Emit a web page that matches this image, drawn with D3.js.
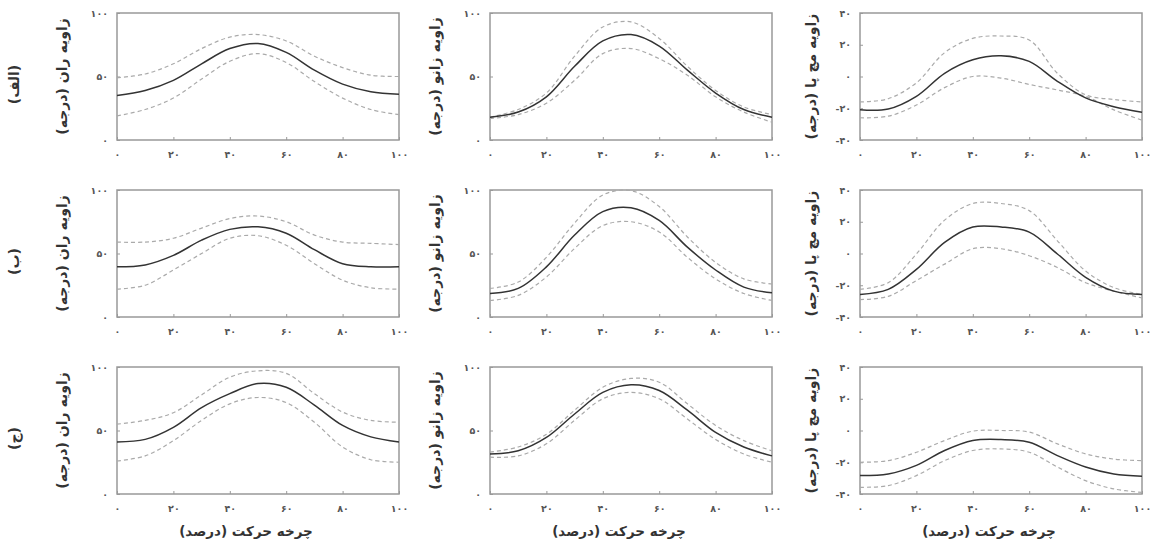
<!DOCTYPE html>
<html>
<head>
<meta charset="utf-8">
<script src="https://cdn.jsdelivr.net/npm/d3@7"></script>
<style>
  body { margin: 0; background: #fff; }
  text { font-family: "DejaVu Sans", sans-serif; fill: #333; }
  .axis path, .axis line { stroke: #999; }
</style>
</head>
<body>
<div id="chart"></div>
<script>
// gait cycle percent
var cycle = [0, 10, 20, 30, 40, 50, 60, 70, 80, 90, 100];

var rowLabels = ["(الف)", "(ب)", "(ج)"];
var yLabels = ["زاویه ران (درجه)", "زاویه زانو (درجه)", "زاویه مچ پا (درجه)"];
var xLabel = "چرخه حرکت (درصد)";
var xTicks = [0, 20, 40, 60, 80, 100];
var yTicksHipKnee = [0, 50, 100];
var yTicksAnkle = [-40, -20, 0, 20, 40];

// row (الف)
var hipA_mean  = [35, 39, 47, 60, 72, 76, 69, 55, 44, 38, 36];
var hipA_upper = [49, 52, 60, 72, 81, 83, 78, 66, 57, 51, 50];
var hipA_lower = [19, 24, 33, 48, 62, 68, 61, 46, 33, 24, 20];
var kneeA_mean  = [18, 22, 34, 58, 78, 83, 74, 55, 37, 24, 18];
var kneeA_upper = [18, 24, 37, 66, 89, 93, 80, 58, 39, 26, 20];
var kneeA_lower = [17, 20, 29, 47, 68, 72, 64, 51, 34, 22, 14];
var ankleA_mean  = [-21, -20.5, -12.5, 2, 10.5, 13, 9.5, -3, -13.5, -19, -22.5];
var ankleA_upper = [-16, -14, -4, 15, 24, 25.5, 23, 2, -11.5, -14.5, -16];
var ankleA_lower = [-26, -25, -18, -7, 0, -1, -5, -8.5, -12.5, -21, -27.5];

// row (ب)
var hipB_mean  = [39.5, 41, 48.5, 60.5, 69, 71, 66, 53, 42, 39.5, 39.5];
var hipB_upper = [59, 59, 62, 70, 77.5, 79.5, 75, 64.5, 59, 58, 57];
var hipB_lower = [22, 25, 37, 50, 62, 64, 56.5, 42, 29, 23, 22];
var kneeB_mean  = [18.5, 22.5, 39.5, 64.5, 83, 86, 76, 55, 37, 23.5, 19];
var kneeB_upper = [22.5, 27.5, 47, 74, 96, 99.5, 87, 63, 43, 30, 26];
var kneeB_lower = [13, 17, 31.5, 54, 72, 75, 67, 47, 30, 18.5, 13];
var ankleB_mean  = [-25.8, -22.6, -10, 7, 16.7, 16.7, 13.5, -0.3, -15, -23.7, -25.8];
var ankleB_upper = [-22.6, -18.4, -0.3, 21, 31.5, 31.5, 27, 8, -11, -21.5, -25.8];
var ankleB_lower = [-29, -27, -17, -6.7, 3, 3, -1.4, -8.8, -18.4, -23.7, -28];

// row (ج)
var hipC_mean  = [41, 43, 52.5, 68, 79, 87, 84, 70, 54, 45, 41];
var hipC_upper = [55, 58, 64, 78, 92, 97, 95, 79, 64.5, 58, 56.5];
var hipC_lower = [26, 30, 42, 58, 71, 76, 72, 56.5, 37, 27, 25];
var kneeC_mean  = [31.5, 34, 44.5, 63, 80, 86, 81.5, 66, 48.5, 37, 30];
var kneeC_upper = [33, 37, 47, 66, 84, 91, 88, 71, 54, 42, 34];
var kneeC_lower = [29, 30, 39.5, 58, 75, 80, 75, 59, 43, 31.5, 25];
var ankleC_mean  = [-28.4, -27.4, -22, -12.6, -6.3, -5.7, -7.4, -15.8, -23, -27.4, -28.8];
var ankleC_upper = [-20, -19, -13.7, -6.3, -0.4, 0, -1, -8.4, -14.7, -18, -19];
var ankleC_lower = [-35.8, -34.7, -28.4, -19, -12.6, -11.6, -13.7, -23, -31.6, -36.8, -39];

var panels = [
    [[hipA_mean, hipA_upper, hipA_lower], [kneeA_mean, kneeA_upper, kneeA_lower], [ankleA_mean, ankleA_upper, ankleA_lower]],
    [[hipB_mean, hipB_upper, hipB_lower], [kneeB_mean, kneeB_upper, kneeB_lower], [ankleB_mean, ankleB_upper, ankleB_lower]],
    [[hipC_mean, hipC_upper, hipC_lower], [kneeC_mean, kneeC_upper, kneeC_lower], [ankleC_mean, ankleC_upper, ankleC_lower]]
];

var svgWidth = 1152;
var svgHeight = 546;
var svg = d3.select("#chart")
    .append("svg")
    .attr("width", svgWidth)
    .attr("height", svgHeight);

var colLeft = [117, 490, 860];
var rowTop = [13, 190, 367];
var plotW = 282;
var plotH = 127;

// persian digits for tick labels
var faDigits = "۰۱۲۳۴۵۶۷۸۹";
function fa(n) {
    return String(n).replace(/[0-9]/g, d => faDigits[+d]);
}

var xScale = d3.scaleLinear().domain([0, 100]).range([0, plotW]);

panels.forEach(function(row, r) {
    // row label
    svg.append("text")
        .attr("transform", "translate(19," + (rowTop[r] + plotH / 2 + 8) + ") rotate(-90)")
        .attr("text-anchor", "middle")
        .attr("direction", "rtl")
        .style("font-size", "14px")
        .style("font-weight", "bold")
        .text(rowLabels[r]);

    row.forEach(function(series, c) {
        var isAnkle = (c === 2);
        var yScale = d3.scaleLinear()
            .domain(isAnkle ? [-40, 40] : [0, 100])
            .range([plotH, 0]);

        var g = svg.append("g")
            .attr("transform", "translate(" + colLeft[c] + "," + rowTop[r] + ")");

        var xAxis = d3.axisBottom(xScale)
            .tickValues(xTicks)
            .tickSize(-3)
            .tickPadding(11)
            .tickFormat(fa);
        var xAxisGroup = g.append("g")
            .attr("class", "axis")
            .attr("transform", "translate(0," + plotH + ")")
            .call(xAxis);

        var yAxis = d3.axisLeft(yScale)
            .tickValues(isAnkle ? yTicksAnkle : yTicksHipKnee)
            .tickSize(-3)
            .tickPadding(9)
            .tickFormat(fa);
        var yAxisGroup = g.append("g")
            .attr("class", "axis")
            .call(yAxis);

        g.selectAll(".axis .domain").remove();
        g.selectAll(".axis text")
            .style("font-size", "9.5px")
            .style("font-weight", "bold")
            .style("fill", "#555");

        // frame
        g.append("rect")
            .attr("width", plotW)
            .attr("height", plotH)
            .attr("fill", "none")
            .attr("stroke", "#999")
            .attr("stroke-width", 1.5);

        var line = d3.line()
            .x((d, i) => xScale(cycle[i]))
            .y(d => yScale(d))
            .curve(d3.curveCatmullRom.alpha(0.5));

        // upper / lower (dashed), mean (solid)
        [series[1], series[2]].forEach(function(s) {
            g.append("path")
                .datum(s)
                .attr("d", line)
                .attr("fill", "none")
                .attr("stroke", "#aaa")
                .attr("stroke-width", 1.2)
                .attr("stroke-dasharray", "4,3");
        });
        g.append("path")
            .datum(series[0])
            .attr("d", line)
            .attr("fill", "none")
            .attr("stroke", "#333")
            .attr("stroke-width", 1.5);

        // y label
        svg.append("text")
            .attr("transform", "translate(" + (colLeft[c] - (isAnkle ? 44 : 50)) + "," + (rowTop[r] + plotH / 2) + ") rotate(-90)")
            .attr("text-anchor", "middle")
            .attr("direction", "rtl")
            .style("font-size", "14px")
            .style("font-weight", "bold")
            .text(yLabels[c]);

        if (r === 2) {
            svg.append("text")
                .attr("x", colLeft[c] + plotW / 2 - 12)
                .attr("y", rowTop[r] + plotH + 42)
                .attr("text-anchor", "middle")
                .attr("direction", "rtl")
                .style("font-size", "13.5px")
                .style("font-weight", "bold")
                .text(xLabel);
        }
    });
});
</script>
</body>
</html>
